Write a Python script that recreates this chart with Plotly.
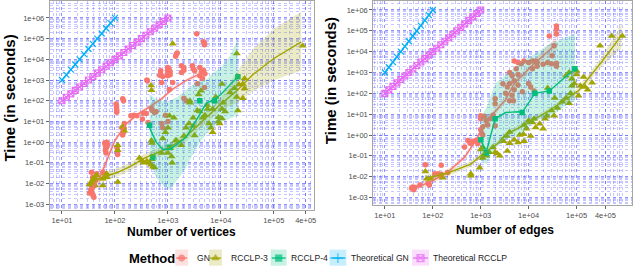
import plotly.graph_objects as go

W, H = 640, 266

# ---------------- DATA ----------------
# Theoretical curves (same in both panels)
theo_gn_x = [10, 12.1, 14.7, 17.8, 21.5, 26.1, 31.6, 38.3, 46.4, 56.2, 68.1, 82.5, 100]
theo_gn_y = [1000, 1778, 3162, 5623, 10000, 17783, 31623, 56234, 100000, 177828, 316228, 562341, 1000000]
theo_rc_x = [10, 12.1, 14.7, 17.8, 21.5, 26.1, 31.6, 38.3, 46.4, 56.2, 68.1, 82.5, 100,
             121, 147, 178, 215, 261, 316, 383, 464, 562, 681, 825, 1000]
theo_rc_y = [100, 147, 215, 316, 464, 681, 1000, 1468, 2154, 3162, 4642, 6813, 10000,
             14678, 21544, 31623, 46416, 68129, 100000, 146780, 215443, 316228, 464159, 681292, 1000000]

# ---- Left panel: number of vertices ----
gn_v_x = [33, 35, 36, 38, 39, 40, 37, 36, 41, 38, 36, 42, 45, 64, 59,
          64, 66, 68, 70, 72, 66, 70, 68, 110, 112, 112,
          105, 107, 107, 108, 108, 140, 145, 150, 150, 140, 135, 145,
          200, 230, 260, 330, 390, 340, 490, 560, 600, 420, 500, 410, 400,
          730, 730, 990, 990, 990, 990, 1050, 1100, 760, 1230, 800, 700, 1100,
          1400, 1450, 1500, 1800, 1800, 2000, 2000, 2200, 2000, 1070,
          3000, 3200, 3500, 3600, 4000, 4000, 4300, 4500, 4700, 4900, 4900, 4900, 4700, 5000, 2900,
          760, 800, 1000, 900]
gn_v_y = [0.0035, 0.005, 0.004, 0.003, 0.0025, 0.0022, 0.006, 0.008, 0.008, 0.02, 0.035, 0.015, 0.03, 0.03, 0.035,
          0.9, 0.7, 0.5, 0.6, 0.8, 0.4, 1.0, 0.3, 0.5, 0.35, 0.25,
          70, 55, 45, 35, 28, 125, 100, 8, 4.6, 2.2, 5, 3,
          19, 20, 19, 13, 24, 25, 42, 27, 30, 9, 35, 930, 1000,
          2800, 2000, 4000, 3000, 2200, 1600, 3500, 2500, 750, 750, 1500, 1700, 1800,
          14000, 18000, 20000, 4900, 2300, 3000, 4000, 100, 130, 350,
          3500, 2800, 170000, 670, 1600, 4000, 2500, 1200, 3000, 430, 50000, 60000, 70000, 2000, 4900,
          8, 5, 10, 20]

rc3_v_x = [33, 36, 38, 41, 42, 45, 59, 59, 70, 70, 113, 113, 113, 140, 150,
           290, 320, 350, 400, 450, 480, 520, 560, 500, 490, 500, 480, 490,
           760, 800, 900, 1000, 1100, 1170, 1200, 1300, 1000, 1070, 1400, 1230, 1800, 1450,
           2000, 2200, 2500, 2600, 2600, 3000, 3200, 3000, 3600, 3800, 4000, 4200, 4500, 5000,
           5600, 5500, 6000, 6500, 7000, 7000, 7500, 8000, 9000, 9500, 9000, 10500, 10500, 10500,
           11000, 12000, 15000, 20000, 18000, 20000, 21000, 22000, 26000, 26000, 28000, 28000, 350000]
rc3_v_y = [0.009, 0.012, 0.015, 0.02, 0.008, 0.025, 0.017, 0.008, 0.03, 0.02, 0.012, 0.7, 0.4, 5.5, 3.5,
           0.17, 0.13, 0.1, 0.12, 0.1, 0.08, 0.065, 0.06, 0.15, 1.2, 0.9, 540, 320,
           0.3, 1.5, 3, 0.3, 0.5, 0.2, 0.1, 15, 5, 19, 1.2, 56000, 0.7, 1.2,
           2, 5, 8, 80, 100, 6, 2.1, 15, 34, 200, 30, 300, 15, 20,
           40, 60, 8, 5, 3, 40, 100, 150, 16, 8, 10, 650, 40, 14,
           80, 30, 250, 19000, 400, 150, 34, 600, 650, 130, 1200, 390, 45000]

rc4_v_x = [450, 520, 1070, 4000, 7600, 21000]
rc4_v_y = [6.5, 0.19, 0.56, 100, 100, 1450]

# smooth fits
gn_v_fit_x = [36, 52, 70, 100, 165, 290, 500, 800, 1200, 2200, 4500]
gn_v_fit_y = [0.005, 0.02, 0.13, 1.2, 8, 25, 60, 140, 350, 950, 2300]
gn_v_lo = [0.0025, 0.012, 0.09, 0.9, 6.5, 20, 50, 115, 290, 780, 1700]
gn_v_hi = [0.01, 0.033, 0.19, 1.6, 10, 31, 72, 170, 420, 1150, 3100]

rc3_v_fit_x = [33, 60, 113, 200, 360, 700, 1000, 2000, 4000, 10000, 20000, 40000, 100000, 330000]
rc3_v_fit_y = [0.012, 0.02, 0.035, 0.07, 0.17, 0.35, 0.5, 1.5, 8, 70, 300, 1800, 11000, 70000]
rc3_v_lo = [0.0075, 0.0125, 0.022, 0.044, 0.11, 0.22, 0.31, 0.9, 4.5, 35, 80, 280, 1000, 2800]
rc3_v_hi = [0.019, 0.032, 0.056, 0.11, 0.27, 0.55, 0.8, 2.5, 14, 140, 2500, 30000, 300000, 2000000]

rc4_v_fit_x = [450, 600, 800, 1100, 1500, 2200, 3400, 5300, 7600, 10000, 15000, 21000]
rc4_v_fit_y = [5, 1, 0.45, 0.45, 0.8, 1.7, 11, 75, 120, 200, 600, 1450]
rc4_v_lo = [0.13, 0.02, 0.008, 0.005, 0.015, 0.06, 0.5, 2.6, 6, 9, 14, 20]
rc4_v_hi = [220, 120, 100, 100, 150, 320, 800, 1050, 2500, 4000, 15000, 100000]

# ---- Right panel: number of edges ----
gn_e_x = [36, 38, 40, 42, 54, 80, 85, 70, 150, 110, 130, 150, 205,
          460, 540, 600, 650, 700, 800, 870,
          1000, 1000, 1000, 1050, 1100, 1100, 1200, 1300, 1400, 1600, 1800, 2000, 2000, 2000,
          2900, 3300, 3600, 4000, 4500, 4800, 5000, 6000, 7400,
          4000, 4500, 5000, 6000, 4000, 5500,
          5000, 6000, 7000, 8000, 10000, 12000, 15000, 12000, 15000, 10000, 13000, 11000, 14000,
          20000, 25000, 30000, 38000, 38000,
          27000, 34000, 31000, 38000, 38000, 38000]
gn_e_y = [0.0028, 0.0032, 0.0024, 0.003, 0.004, 0.0047, 0.004, 0.038, 0.035, 0.014, 0.014, 0.013, 0.016,
          0.27, 0.54, 0.4, 0.45, 0.5, 0.55, 0.39,
          8.5, 6, 1.8, 1.2, 1, 2.5, 8, 5, 3, 6, 9, 2.8, 55, 32,
          290, 100, 200, 44, 80, 44, 150, 250, 120,
          1000, 700, 400, 800, 300, 1500,
          3600, 3000, 2600, 3600, 3000, 3600, 3000, 1500, 2000, 300, 130, 200, 3600,
          2500, 3000, 2600, 2800, 2000,
          57000, 19000, 6300, 170000, 120000, 70000]

rc3_e_x = [70, 75, 90, 150, 160, 620, 620, 950,
           1000, 1100, 1100, 1200, 1500, 1800, 2000, 2200, 2500, 1300,
           3000, 3500, 3600, 4000, 4000, 5000, 6000, 6500, 7800, 8000, 8000, 9000, 10000, 11000,
           12000, 13000, 14000, 17000, 20000, 22000, 24000, 30000, 34000, 40000, 50000, 60000,
           70000, 75000, 80000, 90000, 100000, 110000, 120000, 140000, 150000, 170000, 210000,
           310000, 540000, 900000, 100000, 80000, 70000, 25000, 35000, 60000]
rc3_e_y = [0.018, 0.008, 0.008, 0.011, 0.009, 0.011, 0.014, 0.027,
           0.2, 0.26, 0.08, 0.12, 0.15, 0.26, 0.15, 0.13, 0.1, 0.1,
           0.5, 0.9, 0.17, 1.4, 0.4, 0.6, 0.44, 1, 1.1, 0.5, 3, 2, 5, 0.9,
           4, 6, 2.3, 3.5, 2, 6, 8.5, 15, 8.5, 20, 40, 60,
           33, 100, 230, 300, 1200, 76, 230, 600, 200, 150, 320,
           19000, 57000, 57000, 800, 500, 1000, 180, 60, 700]

rc4_e_x = [1000, 1300, 2000, 7300, 13500, 27000, 92000]
rc4_e_y = [0.6, 0.14, 6, 12, 100, 130, 1500]

gn_e_fit_x = [42, 88, 200, 460, 790, 1100, 1780, 3300, 5000, 13000, 38000]
gn_e_fit_y = [0.003, 0.0055, 0.016, 0.085, 0.55, 2.2, 10, 50, 300, 2600, 24000]
gn_e_lo = [0.0022, 0.0042, 0.012, 0.065, 0.42, 1.6, 7, 35, 200, 1600, 11000]
gn_e_hi = [0.0042, 0.0072, 0.021, 0.11, 0.72, 3, 14, 72, 450, 4200, 50000]

rc3_e_fit_x = [68, 190, 620, 1130, 2300, 3200, 8000, 27000, 110000, 340000, 870000]
rc3_e_fit_y = [0.008, 0.014, 0.04, 0.13, 0.4, 1, 3, 15, 135, 3400, 60000]
rc3_e_lo = [0.0055, 0.01, 0.03, 0.1, 0.3, 0.75, 2.3, 11, 95, 2000, 15000]
rc3_e_hi = [0.012, 0.019, 0.053, 0.17, 0.53, 1.3, 4, 20, 190, 6000, 210000]

rc4_e_fit_x = [1000, 1300, 2000, 3300, 6000, 7300, 13500, 27000, 50000, 92000]
rc4_e_fit_y = [0.6, 0.15, 6, 12, 13, 12, 100, 130, 450, 1500]
rc4_e_lo = [0.06, 0.04, 0.25, 0.6, 1, 1.2, 5, 7, 20, 44]
rc4_e_hi = [7, 20, 290, 800, 2500, 3600, 8000, 24000, 40000, 70000]

x_tickvals = [10, 100, 1000, 10000, 100000, 400000]
x_ticktext = ["1e+01", "1e+02", "1e+03", "1e+04", "1e+05", "4e+05"]
y_tickvals = [1e-3, 1e-2, 1e-1, 1, 10, 100, 1e3, 1e4, 1e5, 1e6]
y_ticktext = ["1e-03", "1e-02", "1e-01", "1e+00", "1e+01", "1e+02", "1e+03", "1e+04", "1e+05", "1e+06"]

methods = ["GN", "RCCLP-3", "RCCLP-4", "Theoretical GN", "Theoretical RCCLP"]
colors = ["#F8766D", "#A3A500", "#00BF7D", "#00B0F6", "#E76BF3"]
fills = ["rgba(248,118,109,0.22)", "rgba(163,165,0,0.22)", "rgba(0,191,125,0.22)",
         "rgba(0,176,246,0.22)", "rgba(231,107,243,0.22)"]

# ---------------- FIGURE ----------------
fig = go.Figure()


def add_panel(xa, ya, pts, fits):
    # theoretical lines
    fig.add_trace(go.Scatter(x=theo_rc_x, y=theo_rc_y, xaxis=xa, yaxis=ya, mode="lines+markers",
                             line=dict(color=colors[4], width=1.3),
                             marker=dict(symbol="square-x-open", size=6, color=colors[4], line=dict(width=1.1)),
                             showlegend=False, hoverinfo="skip"))
    fig.add_trace(go.Scatter(x=theo_gn_x, y=theo_gn_y, xaxis=xa, yaxis=ya, mode="lines+markers",
                             line=dict(color=colors[3], width=1.3),
                             marker=dict(symbol="x-thin", size=6, color=colors[3], line=dict(width=1.2, color=colors[3])),
                             showlegend=False, hoverinfo="skip"))
    symbols = ["circle", "triangle-up", "square"]
    sizes = [5.5, 7, 5.5]
    for i, (px_, py_) in enumerate(pts):
        fig.add_trace(go.Scatter(x=px_, y=py_, xaxis=xa, yaxis=ya, mode="markers",
                                 marker=dict(symbol=symbols[i], size=sizes[i], color=colors[i], line=dict(width=0)),
                                 showlegend=False, hoverinfo="skip"))
    for i, (fx, fy, lo, hi) in enumerate(fits):
        fig.add_trace(go.Scatter(x=list(fx) + list(fx)[::-1], y=list(hi) + list(lo)[::-1],
                                 xaxis=xa, yaxis=ya, mode="lines", fill="toself",
                                 fillcolor=fills[i], line=dict(width=0), showlegend=False, hoverinfo="skip"))
        fig.add_trace(go.Scatter(x=fx, y=fy, xaxis=xa, yaxis=ya, mode="lines",
                                 line=dict(color=colors[i], width=1.4),
                                 showlegend=False, hoverinfo="skip"))


add_panel("x", "y",
          [(gn_v_x, gn_v_y), (rc3_v_x, rc3_v_y), (rc4_v_x, rc4_v_y)],
          [(gn_v_fit_x, gn_v_fit_y, gn_v_lo, gn_v_hi),
           (rc3_v_fit_x, rc3_v_fit_y, rc3_v_lo, rc3_v_hi),
           (rc4_v_fit_x, rc4_v_fit_y, rc4_v_lo, rc4_v_hi)])
add_panel("x2", "y2",
          [(gn_e_x, gn_e_y), (rc3_e_x, rc3_e_y), (rc4_e_x, rc4_e_y)],
          [(gn_e_fit_x, gn_e_fit_y, gn_e_lo, gn_e_hi),
           (rc3_e_fit_x, rc3_e_fit_y, rc3_e_lo, rc3_e_hi),
           (rc4_e_fit_x, rc4_e_fit_y, rc4_e_lo, rc4_e_hi)])

# ---- manual legend (keys drawn on a helper axis in pixel units) ----
key_cx = [182.5, 216.5, 280, 339.5, 422.5]
key_w = [13, 13, 16, 17, 17]
key_sym = ["circle", "triangle-up", "square", "cross-thin", "square-x-open"]
label_x = [195.5, 230.5, 290.5, 350.5, 433.5]
KY = 8  # key centre, pixels from bottom
for i in range(5):
    x0, x1 = key_cx[i] - key_w[i] / 2, key_cx[i] + key_w[i] / 2
    fig.add_shape(type="rect", xref="x3", yref="y3", x0=x0, x1=x1, y0=0.3, y1=16.5,
                  fillcolor=fills[i], line=dict(width=0), layer="below")
    fig.add_trace(go.Scatter(x=[x0 + 1, key_cx[i], x1 - 1], y=[KY, KY, KY], xaxis="x3", yaxis="y3",
                             mode="lines+markers", line=dict(color=colors[i], width=1.3),
                             marker=dict(symbol=key_sym[i], size=[0, 6 if i < 3 else 7, 0], color=colors[i],
                                         line=dict(width=1.2, color=colors[i])),
                             showlegend=False, hoverinfo="skip"))
    fig.add_annotation(text=methods[i], xref="paper", yref="paper", x=label_x[i] / W, y=1 - 258 / H,
                       xanchor="left", yanchor="middle", showarrow=False,
                       font=dict(size=8.6, color="#222222", family="Liberation Sans"))

fig.add_annotation(text="<b>Method</b>", xref="paper", yref="paper", x=128 / W, y=1 - 258.5 / H,
                   xanchor="left", yanchor="middle", showarrow=False,
                   font=dict(size=13, color="black", family="Liberation Sans"))

# axis titles
for txt, x, y, ang in [("<b>Time (in seconds)</b>", 10, 97, -90),
                       ("<b>Time (in seconds)</b>", 332, 80, -90),
                       ("<b>Number of vertices</b>", 182.5, 232, 0),
                       ("<b>Number of edges</b>", 507, 230, 0)]:
    fig.add_annotation(text=txt, xref="paper", yref="paper", x=x / W, y=1 - y / H,
                       xanchor="center", yanchor="middle", showarrow=False, textangle=ang,
                       font=dict(size=15 if ang else 12, color="black", family="Liberation Sans"))

minor_x = [k * 10 ** d for d in range(0, 7) for k in range(2, 10)]
minor_y = [k * 10 ** d for d in range(-4, 7) for k in range(2, 10)]

grid_major = "rgba(70,70,255,0.6)"
grid_minor = "rgba(90,90,255,0.35)"
tickfont = dict(size=7.5, color="#4d4d4d", family="Liberation Sans")

common_x = dict(type="log", tickmode="array", tickvals=x_tickvals, ticktext=x_ticktext,
                showgrid=True, gridcolor=grid_major, griddash="dot", gridwidth=1,
                minor=dict(tickmode="array", tickvals=minor_x, showgrid=True, gridcolor=grid_minor,
                           griddash="dot", gridwidth=1, ticks=""),
                showline=True, mirror=True, linecolor="#a6a6a6", linewidth=1,
                ticks="outside", ticklen=3, tickcolor="#666666", tickfont=tickfont, zeroline=False)
common_y = dict(type="log", tickmode="array", tickvals=y_tickvals, ticktext=y_ticktext,
                showgrid=True, gridcolor=grid_major, griddash="dot", gridwidth=1,
                minor=dict(tickmode="array", tickvals=minor_y, showgrid=True, gridcolor=grid_minor,
                           griddash="dot", gridwidth=1, ticks=""),
                showline=True, mirror=True, linecolor="#a6a6a6", linewidth=1,
                ticks="outside", ticklen=3, tickcolor="#666666", tickfont=tickfont, zeroline=False)

fig.update_layout(
    width=W, height=H,
    margin=dict(l=0, r=0, t=0, b=0),
    paper_bgcolor="white", plot_bgcolor="white",
    showlegend=False,
    font=dict(family="Liberation Sans"),
    xaxis=dict(common_x, domain=[50 / W, 315 / W], range=[0.769, 5.75], anchor="y"),
    yaxis=dict(common_y, domain=[1 - 210 / H, 1], range=[-3.289, 6.818], anchor="x"),
    xaxis2=dict(common_x, domain=[375 / W, 635 / W], range=[0.757, 6.157], anchor="y2"),
    yaxis2=dict(common_y, domain=[1 - 205 / H, 1], range=[-3.368, 6.43], anchor="x2"),
    xaxis3=dict(domain=[0, 1], range=[0, W], visible=False, fixedrange=True, anchor="y3"),
    yaxis3=dict(domain=[0, 30 / H], range=[0, 30], visible=False, fixedrange=True, anchor="x3"),
)

fig.write_html("out.html", config={"displayModeBar": False},
               post_script="document.body.style.margin='0';document.body.style.overflow='hidden';")
